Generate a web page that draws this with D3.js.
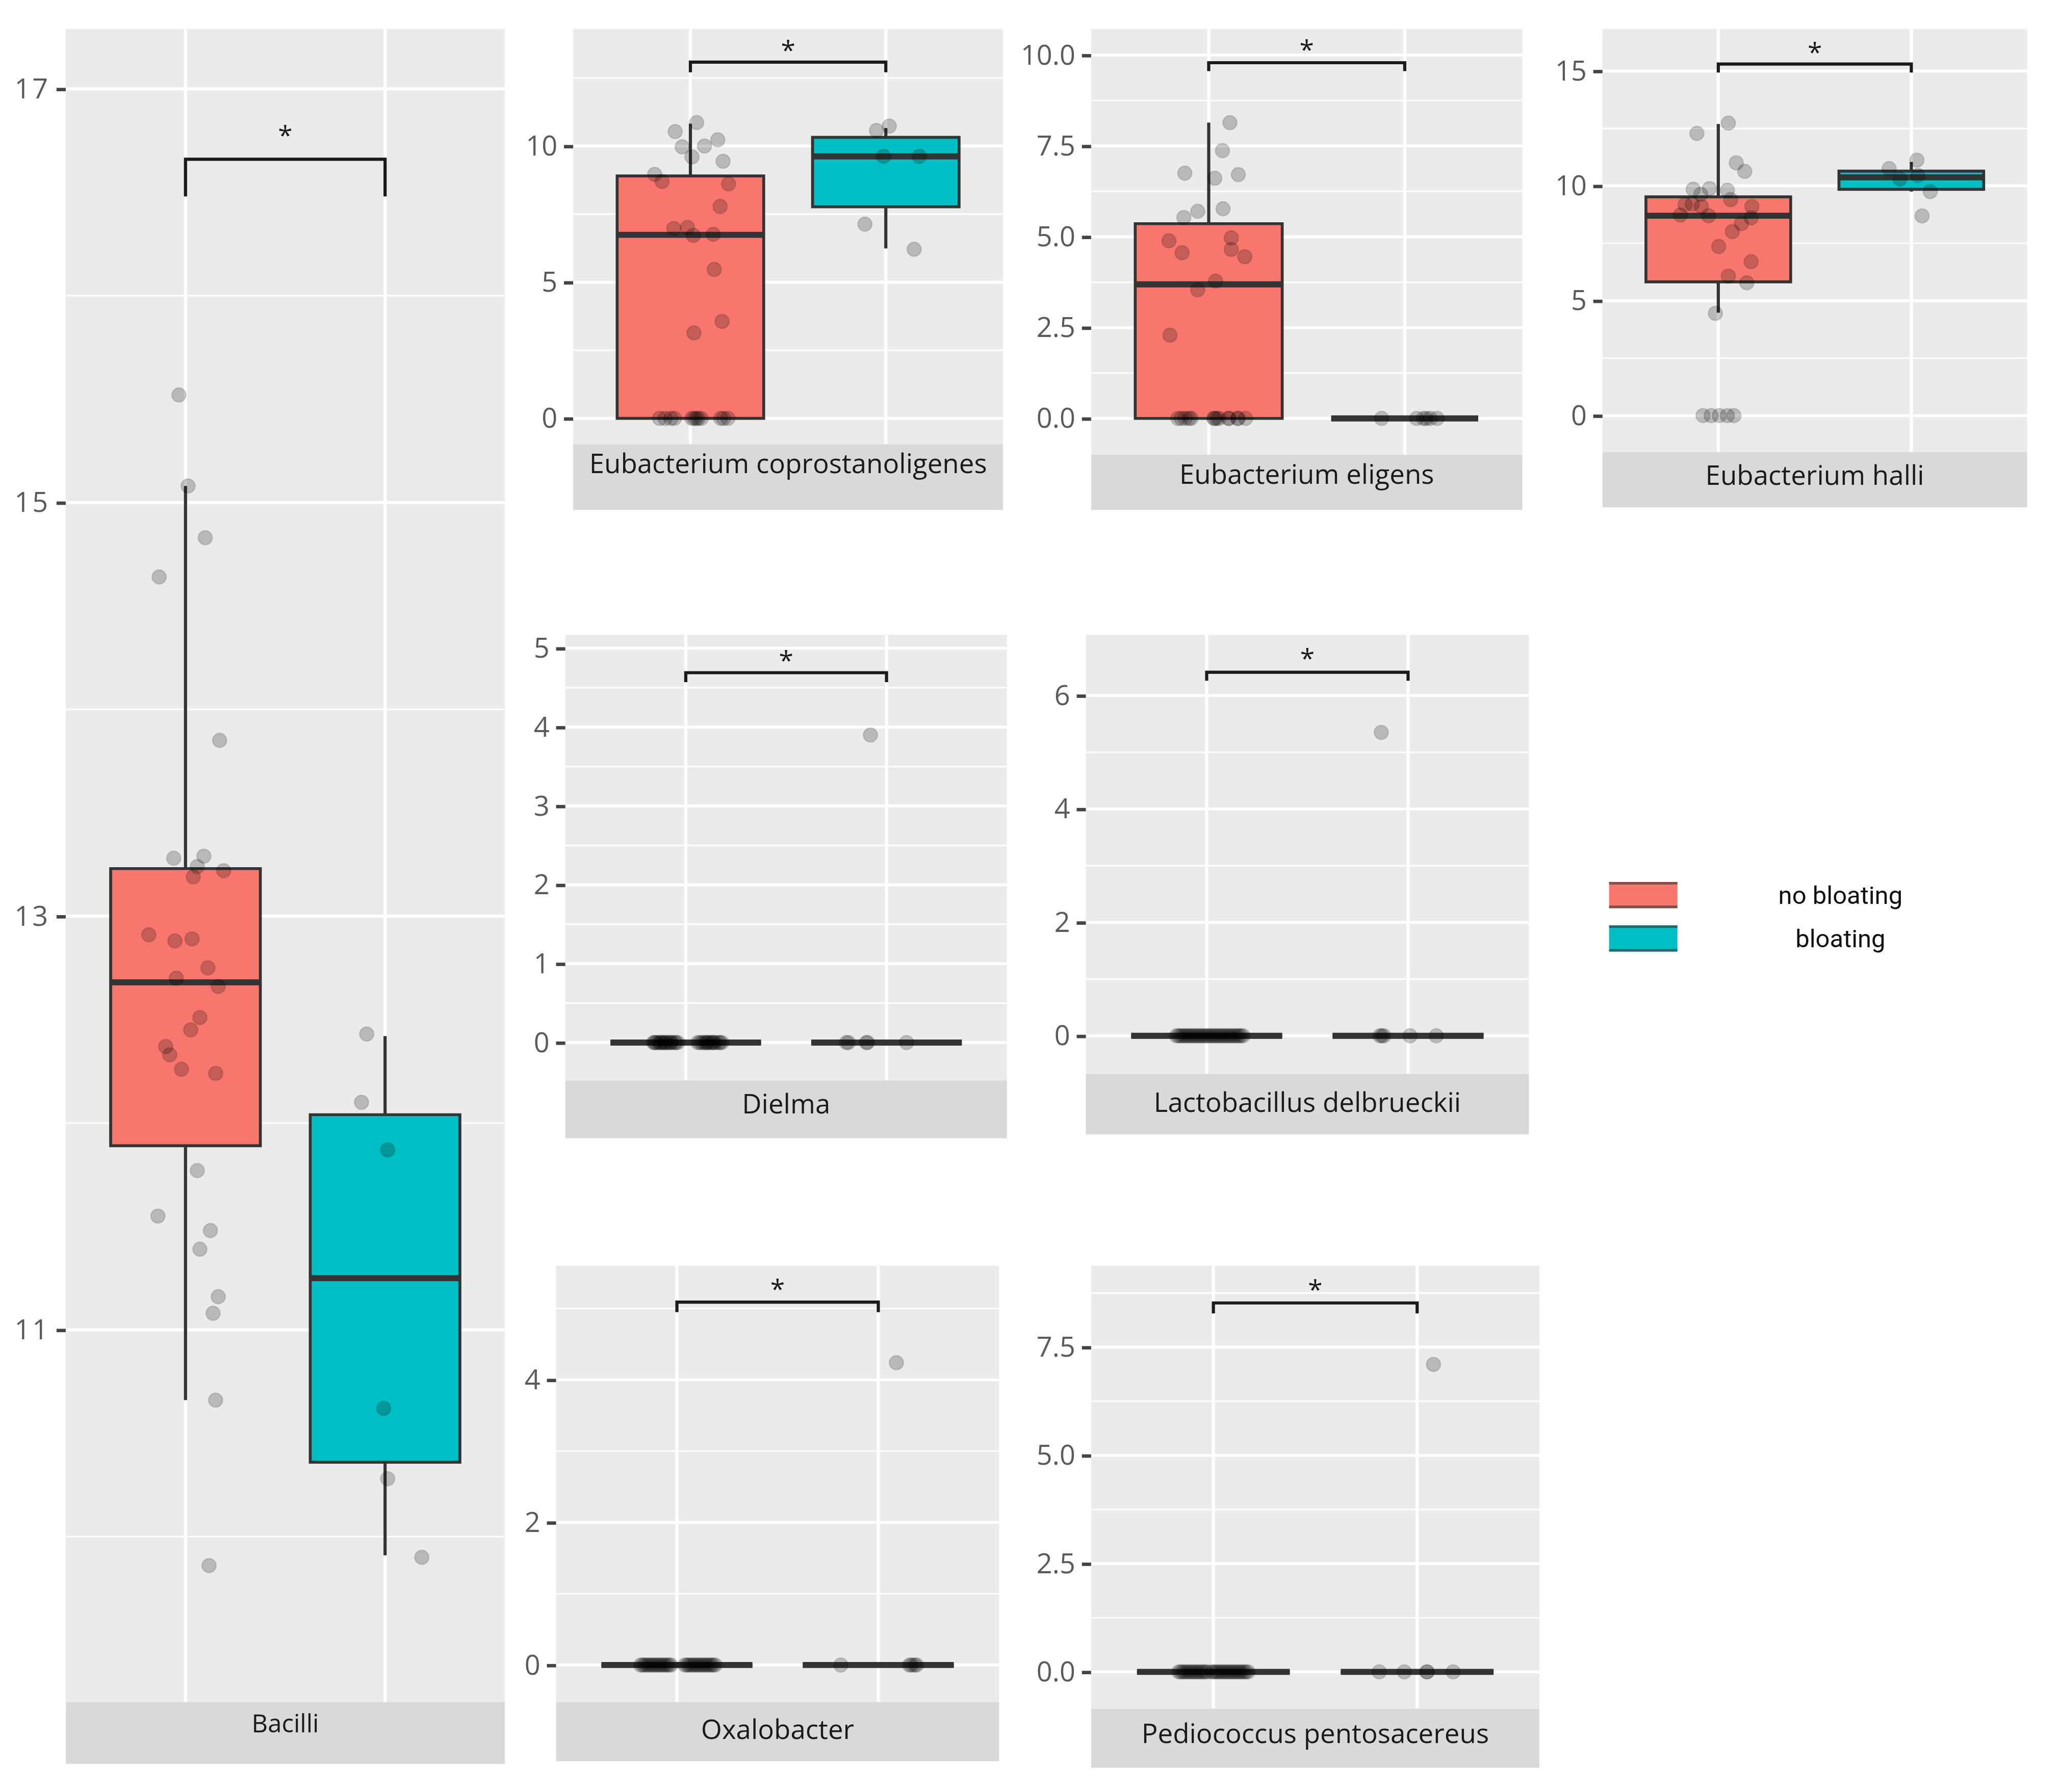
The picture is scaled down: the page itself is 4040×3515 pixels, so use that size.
<!DOCTYPE html>
<html>
<head>
<meta charset="utf-8">
<script src="https://cdn.jsdelivr.net/npm/d3@7"></script>
<style>
  html, body { margin: 0; padding: 0; background: #fff; }
  svg { display: block; }
</style>
</head>
<body>
<div class="chart"></div>
<script>
// ---- data ----
const panelNames = ["Bacilli", "Eubacterium coprostanoligenes", "Eubacterium eligens", "Eubacterium halli",
  "Dielma", "Lactobacillus delbrueckii", "Oxalobacter", "Pediococcus pentosacereus"];
const groups = ["no bloating", "bloating"];

const yTicks = [[11, 13, 15, 17], [0, 5, 10], [0, 2.5, 5, 7.5, 10], [0, 5, 10, 15],
  [0, 1, 2, 3, 4, 5], [0, 2, 4, 6], [0, 2, 4], [0, 2.5, 5, 7.5]];
const tickLabels = [["11", "13", "15", "17"], ["0", "5", "10"], ["0.0", "2.5", "5.0", "7.5", "10.0"], ["0", "5", "10", "15"],
  ["0", "1", "2", "3", "4", "5"], ["0", "2", "4", "6"], ["0", "2", "4"], ["0.0", "2.5", "5.0", "7.5"]];
const minorTicks = [[10, 12, 14, 16], [2.5, 7.5, 12.5], [1.25, 3.75, 6.25, 8.75], [2.5, 7.5, 12.5],
  [0.5, 1.5, 2.5, 3.5, 4.5], [1, 3, 5], [1, 3, 5], [1.25, 3.75, 6.25, 8.75]];
const yDomains = [[9.2, 17.29], [-0.95, 14.3], [-1.0, 10.72], [-1.59, 16.83],
  [-0.48, 5.17], [-0.67, 7.07], [-0.52, 5.6], [-0.85, 9.38]];

// [lower whisker, Q1, median, Q3, upper whisker] for no bloating / bloating
const boxStats = [
  [[10.66, 11.89, 12.68, 13.23, 15.08], [9.91, 10.36, 11.25, 12.04, 12.42]],
  [[0, 0, 6.74, 8.90, 10.82], [6.24, 7.77, 9.62, 10.32, 10.66]],
  [[0, 0, 3.69, 5.36, 8.14], [0, 0, 0, 0, 0]],
  [[4.48, 5.82, 8.70, 9.52, 12.69], [9.75, 9.85, 10.37, 10.64, 11.04]],
  [[0, 0, 0, 0, 0], [0, 0, 0, 0, 0]],
  [[0, 0, 0, 0, 0], [0, 0, 0, 0, 0]],
  [[0, 0, 0, 0, 0], [0, 0, 0, 0, 0]],
  [[0, 0, 0, 0, 0], [0, 0, 0, 0, 0]]
];

// significance bracket: [bar, tip end, star]
const brackets = [[16.66, 16.48, 16.80], [13.08, 12.71, 13.71], [9.79, 9.56, 10.28], [15.3, 14.93, 16.04],
  [4.69, 4.57, 4.91], [6.41, 6.26, 6.74], [5.09, 4.95, 5.34], [8.52, 8.28, 8.94]];

// jittered points: [group position (1 = no bloating, 2 = bloating), value]
const ptsBacilli = [[0.967, 15.52], [1.013, 15.08], [1.099, 14.83], [0.868, 14.64], [1.171, 13.85], [0.941, 13.28],
  [1.092, 13.29], [1.059, 13.24], [1.039, 13.19], [1.191, 13.22], [0.816, 12.91], [0.947, 12.88], [1.033, 12.89],
  [1.112, 12.75], [0.954, 12.70], [1.164, 12.66], [1.072, 12.51], [1.026, 12.45], [0.901, 12.37], [0.921, 12.33],
  [0.980, 12.26], [1.151, 12.24], [1.059, 11.77], [0.862, 11.55], [1.125, 11.48], [1.072, 11.39], [1.164, 11.16],
  [1.138, 11.08], [1.151, 10.66], [1.118, 9.86],
  [1.908, 12.43], [1.882, 12.10], [2.013, 11.87], [1.993, 10.62], [2.013, 10.28], [2.184, 9.90]];
const ptsCopro = [[1.032, 10.86], [0.922, 10.53], [0.958, 9.97], [1.072, 10.0], [1.14, 10.23], [1.008, 9.60],
  [1.167, 9.44], [0.817, 8.96], [0.855, 8.70], [1.195, 8.61], [1.152, 7.78], [0.915, 6.97], [0.985, 7.01],
  [1.015, 6.72], [1.117, 6.76], [1.122, 5.47], [1.162, 3.56], [1.018, 3.14], [0.842, 0], [0.9, 0], [0.918, 0],
  [1.008, 0], [1.03, 0], [1.055, 0], [1.155, 0], [1.192, 0], [0.87, 0], [1.02, 0], [1.04, 0], [1.17, 0],
  [1.952, 10.57], [2.018, 10.73], [1.988, 9.62], [2.172, 9.62], [1.893, 7.13], [2.145, 6.21]];
const ptsEligens = [[1.108, 8.14], [1.07, 7.37], [0.878, 6.75], [1.031, 6.61], [1.151, 6.71], [0.944, 5.70],
  [0.873, 5.53], [1.073, 5.77], [0.797, 4.89], [0.864, 4.56], [1.115, 4.97], [1.115, 4.65], [1.184, 4.45],
  [1.035, 3.78], [0.944, 3.54], [0.802, 2.29], [0.843, 0], [0.899, 0], [1.026, 0], [1.052, 0], [1.104, 0],
  [1.148, 0], [1.188, 0], [0.86, 0], [0.91, 0], [1.03, 0], [1.10, 0], [1.15, 0], [0.88, 0], [1.04, 0],
  [1.882, 0], [2.061, 0], [2.096, 0], [2.13, 0], [2.165, 0], [2.11, 0]];
const ptsHalli = [[1.052, 12.73], [0.889, 12.28], [1.093, 11.0], [1.137, 10.63], [0.870, 9.85], [0.954, 9.88],
  [1.047, 9.81], [0.909, 9.63], [1.064, 9.40], [0.828, 9.18], [0.865, 9.21], [0.912, 9.10], [1.174, 9.10],
  [0.803, 8.73], [0.949, 8.70], [1.170, 8.61], [1.12, 8.36], [1.073, 8.01], [1.002, 7.36], [1.17, 6.70],
  [1.052, 6.07], [1.148, 5.78], [0.985, 4.45], [0.921, 0], [0.963, 0], [1.005, 0], [1.047, 0], [1.081, 0],
  [1.885, 10.75], [2.029, 11.12], [1.941, 10.30], [2.034, 10.45], [2.098, 9.75], [2.056, 8.69]];
const ptsDielma = [[0.84, 0], [0.86, 0], [0.87, 0], [0.89, 0], [0.90, 0], [0.92, 0], [0.93, 0], [0.95, 0], [0.96, 0],
  [0.85, 0], [0.91, 0], [1.06, 0], [1.08, 0], [1.09, 0], [1.11, 0], [1.12, 0], [1.14, 0], [1.15, 0], [1.17, 0],
  [1.18, 0], [1.10, 0], [0.88, 0], [1.13, 0], [0.845, 0], [0.875, 0], [0.895, 0], [0.925, 0], [0.945, 0],
  [1.07, 0], [1.105, 0], [1.135, 0], [1.165, 0],
  [1.80, 0], [1.81, 0], [1.90, 0], [1.905, 0], [2.10, 0], [1.92, 3.9]];
const ptsLacto = [[0.85, 0], [0.87, 0], [0.89, 0], [0.90, 0], [0.92, 0], [0.94, 0], [0.95, 0], [0.97, 0], [0.99, 0],
  [1.00, 0], [1.02, 0], [1.04, 0], [1.05, 0], [1.07, 0], [1.09, 0], [1.10, 0], [1.12, 0], [1.14, 0], [1.16, 0],
  [1.18, 0], [0.88, 0], [0.96, 0], [1.11, 0], [0.86, 0], [0.91, 0], [0.93, 0], [0.98, 0], [1.01, 0], [1.03, 0],
  [1.06, 0], [1.08, 0], [1.13, 0], [1.15, 0], [1.17, 0],
  [1.86, 0], [1.87, 0], [1.88, 0], [2.01, 0], [2.14, 0], [1.867, 5.35]];
const ptsOxalo = [[0.82, 0], [0.84, 0], [0.86, 0], [0.88, 0], [0.89, 0], [0.91, 0], [0.93, 0], [0.94, 0], [0.96, 0],
  [0.97, 0], [1.04, 0], [1.06, 0], [1.08, 0], [1.10, 0], [1.11, 0], [1.13, 0], [1.15, 0], [1.17, 0], [1.19, 0],
  [0.90, 0], [1.12, 0], [0.83, 0], [0.85, 0], [0.87, 0], [0.92, 0], [0.95, 0], [1.05, 0], [1.07, 0], [1.09, 0],
  [1.14, 0], [1.16, 0], [1.18, 0],
  [1.814, 0], [2.155, 0], [2.165, 0], [2.18, 0], [2.19, 0], [2.09, 4.24]];
const ptsPedio = [[0.83, 0], [0.85, 0], [0.87, 0], [0.88, 0], [0.90, 0], [0.93, 0], [0.95, 0], [0.97, 0], [1.00, 0],
  [1.02, 0], [1.04, 0], [1.06, 0], [1.08, 0], [1.10, 0], [1.12, 0], [1.14, 0], [1.16, 0], [1.17, 0],
  [0.91, 0], [1.11, 0], [0.84, 0], [0.86, 0], [0.89, 0], [0.92, 0], [0.94, 0], [0.96, 0], [0.99, 0], [1.01, 0],
  [1.03, 0], [1.05, 0], [1.07, 0], [1.09, 0], [1.13, 0], [1.15, 0],
  [1.814, 0], [1.937, 0], [2.047, 0], [2.05, 0], [2.177, 0], [2.08, 7.1]];
const allPts = [ptsBacilli, ptsCopro, ptsEligens, ptsHalli, ptsDielma, ptsLacto, ptsOxalo, ptsPedio];

// ---- layout (viewBox units) ----
const W = 1567, H = 1363.4;
// plot box, strip bottom (s1) and strip text baseline (ty)
const layout = [
  {x0: 50, x1: 384, y0: 22, y1: 1295, s1: 1342, ty: 1318},
  {x0: 436, x1: 763, y0: 22, y1: 338, s1: 388, ty: 360},
  {x0: 830, x1: 1158, y0: 22, y1: 346, s1: 388, ty: 368},
  {x0: 1219, x1: 1542, y0: 22, y1: 344, s1: 386, ty: 369},
  {x0: 430, x1: 766, y0: 483, y1: 822, s1: 866, ty: 847},
  {x0: 826, x1: 1163, y0: 483, y1: 817, s1: 863, ty: 846},
  {x0: 423, x1: 760, y0: 963, y1: 1295, s1: 1340, ty: 1323},
  {x0: 830, x1: 1171, y0: 963, y1: 1300, s1: 1345, ty: 1326}
];
const font = "'Open Sans', 'DejaVu Sans', sans-serif";

const svg = d3.select('.chart').append('svg')
  .attr('width', 4040)
  .attr('height', 3515)
  .attr('viewBox', `0 0 ${W} ${H}`);
svg.append('rect').attr('width', W).attr('height', H).attr('fill', '#fff');

const colorScale = d3.scaleOrdinal().domain(groups).range(['#F8766D', '#00BFC4']);

panelNames.forEach((name, i) => {
  const L = layout[i];
  const x = d3.scaleLinear().domain([0.4, 2.6]).range([L.x0, L.x1]);
  const y = d3.scaleLinear().domain(yDomains[i]).range([L.y1, L.y0]);
  const g = svg.append('g').attr('class', 'panel');

  g.append('rect')
    .attr('x', L.x0).attr('y', L.y0)
    .attr('width', L.x1 - L.x0).attr('height', L.y1 - L.y0)
    .attr('fill', '#EBEBEB');

  // grid
  g.selectAll('.minor').data(minorTicks[i]).join('line')
    .attr('x1', L.x0).attr('x2', L.x1)
    .attr('y1', d => y(d)).attr('y2', d => y(d))
    .attr('stroke', '#fff').attr('stroke-width', 1.1);
  g.selectAll('.major').data(yTicks[i]).join('line')
    .attr('x1', L.x0).attr('x2', L.x1)
    .attr('y1', d => y(d)).attr('y2', d => y(d))
    .attr('stroke', '#fff').attr('stroke-width', 2.2);
  g.selectAll('.vgrid').data([1, 2]).join('line')
    .attr('x1', d => x(d)).attr('x2', d => x(d))
    .attr('y1', L.y0).attr('y2', L.y1)
    .attr('stroke', '#fff').attr('stroke-width', 2.4);

  // boxes
  boxStats[i].forEach((s, k) => {
    const c = k + 1, xl = x(c - 0.375), xr = x(c + 0.375);
    g.append('line').attr('x1', x(c)).attr('x2', x(c))
      .attr('y1', y(s[0])).attr('y2', y(s[1]))
      .attr('stroke', '#333').attr('stroke-width', 2.4);
    g.append('line').attr('x1', x(c)).attr('x2', x(c))
      .attr('y1', y(s[3])).attr('y2', y(s[4]))
      .attr('stroke', '#333').attr('stroke-width', 2.4);
    g.append('path')
      .attr('d', `M${xl},${y(s[3])}H${xr}V${y(s[1])}H${xl}Z`)
      .attr('fill', colorScale(groups[k]))
      .attr('stroke', '#333').attr('stroke-width', 2.2);
    g.append('line').attr('x1', xl).attr('x2', xr)
      .attr('y1', y(s[2])).attr('y2', y(s[2]))
      .attr('stroke', '#333').attr('stroke-width', 4.6);
  });

  // jittered points
  g.selectAll('circle').data(allPts[i]).join('circle')
    .attr('cx', d => x(d[0]))
    .attr('cy', d => y(d[1]))
    .attr('r', 5.4)
    .attr('fill', '#000').attr('fill-opacity', 0.21)
    .attr('stroke', '#000').attr('stroke-opacity', 0.12).attr('stroke-width', 1);

  // significance bracket
  const b = brackets[i];
  g.append('path')
    .attr('d', `M${x(1)},${y(b[1])}V${y(b[0])}H${x(2)}V${y(b[1])}`)
    .attr('fill', 'none').attr('stroke', '#1a1a1a').attr('stroke-width', 2.4);
  g.append('text')
    .attr('x', x(1.5)).attr('y', y(b[2]) + 11)
    .attr('text-anchor', 'middle')
    .attr('font-family', font).attr('font-size', 20).attr('fill', '#1a1a1a')
    .text('*');

  // y axis
  const axis = g.append('g')
    .attr('transform', `translate(${L.x0},0)`)
    .call(d3.axisLeft(y).tickValues(yTicks[i]).tickSize(7).tickPadding(5)
      .tickFormat((d, j) => tickLabels[i][j]));
  axis.select('.domain').remove();
  axis.selectAll('.tick line').attr('stroke', '#444').attr('stroke-width', 2.6);
  axis.selectAll('.tick text')
    .attr('font-family', font).attr('font-size', 21).attr('fill', '#5a5a5a')
    .attr('letter-spacing', i === 0 ? 1.5 : 0);

  // strip
  g.append('rect')
    .attr('x', L.x0).attr('y', L.y1)
    .attr('width', L.x1 - L.x0).attr('height', L.s1 - L.y1)
    .attr('fill', '#D9D9D9');
  g.append('text')
    .attr('x', (L.x0 + L.x1) / 2).attr('y', L.ty)
    .attr('text-anchor', 'middle')
    .attr('font-family', font).attr('font-size', i === 0 ? 19 : 20.5).attr('fill', '#1A1A1A')
    .text(name);
});

// legend
const legend = svg.append('g').attr('transform', 'translate(1224,671)');
const keys = legend.selectAll('g').data(groups).join('g')
  .attr('transform', (d, k) => `translate(0,${k * 33})`);
keys.append('rect')
  .attr('width', 52).attr('height', 20)
  .attr('fill', d => colorScale(d));
keys.append('line').attr('x1', 0).attr('x2', 52).attr('y1', 1).attr('y2', 1)
  .attr('stroke', '#333').attr('stroke-opacity', 0.6).attr('stroke-width', 2);
keys.append('line').attr('x1', 0).attr('x2', 52).attr('y1', 19).attr('y2', 19)
  .attr('stroke', '#333').attr('stroke-opacity', 0.6).attr('stroke-width', 2);
keys.append('text')
  .attr('x', 176).attr('y', 10).attr('dy', '0.35em')
  .attr('text-anchor', 'middle')
  .attr('font-family', "Roboto, 'Liberation Sans', sans-serif").attr('font-size', 19).attr('fill', '#111')
  .text(d => d);
</script>
</body>
</html>
